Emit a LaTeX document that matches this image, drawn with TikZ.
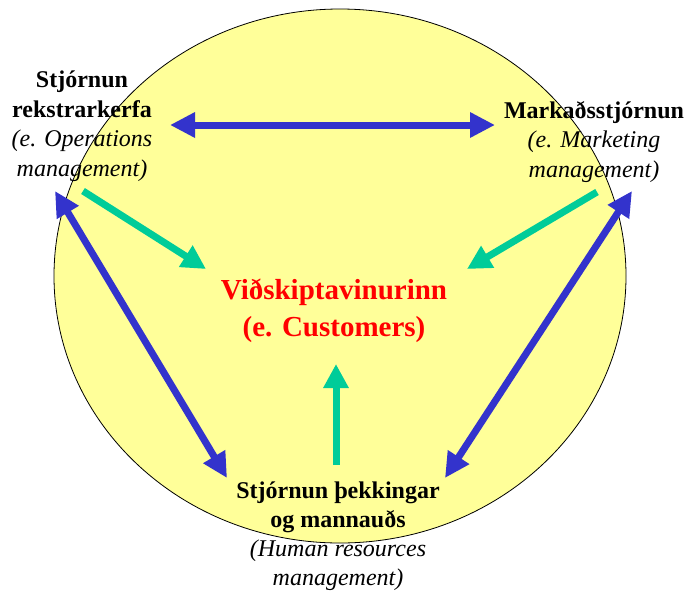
\documentclass[tikz,border=0pt]{standalone}
\usepackage{fontspec}
\setmainfont{Liberation Serif}
\usetikzlibrary{arrows.meta}
\definecolor{discfill}{HTML}{FFFF99}
\definecolor{linkblue}{HTML}{3333CC}
\definecolor{flowgreen}{HTML}{00CC99}
\definecolor{custred}{HTML}{FF0000}
\tikzset{
  label text/.style={align=center, inner sep=0pt, font=\fontsize{24}{29.5}\selectfont},
  both ways/.style={draw=linkblue, line width=7pt,
    {Triangle[length=25pt,width=24pt]}-{Triangle[length=25pt,width=24pt]}},
  one way/.style={draw=flowgreen, line width=7pt,
    -{Triangle[length=24pt,width=24pt]}},
}
\begin{document}
\begin{tikzpicture}[x=1pt,y=-1pt]
  \useasboundingbox (0,0) rectangle (688,592);
  % backdrop disc
  \filldraw[fill=discfill, draw=black, line width=0.8pt] (340,276) ellipse [x radius=286, y radius=267];

  % the four areas
  \node[label text] (ops) at (82,126) {\textbf{Stjórnun}\\\textbf{rekstrarkerfa}\\\textit{(e. Operations}\\\textit{management)}};
  \node[label text] (mkt) at (594,142) {\textbf{Markaðsstjórnun}\\\textit{(e. Marketing}\\\textit{management)}};
  \node[label text, text=custred, font=\fontsize{29}{37}\selectfont\bfseries] (cust) at (334,311) {Viðskiptavinurinn\\(e. Customers)};
  \node[label text, font=\fontsize{24}{29}\selectfont] (hr) at (338,536) {\textbf{Stjórnun þekkingar}\\\textbf{og mannauðs}\\\textit{(Human resources}\\\textit{management)}};

  % connector end points
  \coordinate (opsE) at (170,125);
  \coordinate (mktW) at (495,125);
  \coordinate (opsS) at (55,191);
  \coordinate (hrW) at (227,478);
  \coordinate (mktS) at (632,191);
  \coordinate (hrE) at (445,478);
  \coordinate (opsOut) at (83,191);
  \coordinate (custW) at (206,269);
  \coordinate (mktOut) at (597,192);
  \coordinate (custE) at (467,269);
  \coordinate (hrOut) at (336,465);
  \coordinate (custS) at (336,364);

  % links between the areas
  \draw[both ways] (opsE) -- (mktW);
  \draw[both ways] (opsS) -- (hrW);
  \draw[both ways] (mktS) -- (hrE);

  % flows towards the customer
  \draw[one way] (opsOut) -- (custW);
  \draw[one way] (mktOut) -- (custE);
  \draw[one way] (hrOut) -- (custS);
\end{tikzpicture}
\end{document}
